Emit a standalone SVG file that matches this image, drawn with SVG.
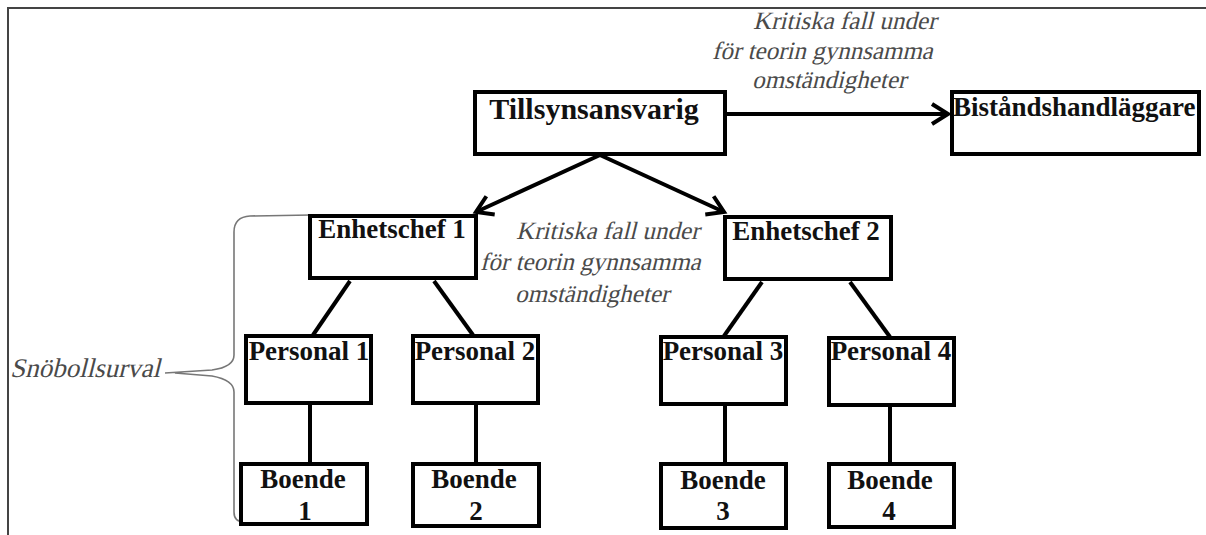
<svg xmlns="http://www.w3.org/2000/svg" width="1206" height="535" viewBox="0 0 1206 535">
<defs>
<style>
.box{fill:#fff;stroke:#000;stroke-width:4}
.t{font-family:"Liberation Serif","Times New Roman",serif;font-weight:bold;font-size:27px;fill:#111;text-anchor:middle}
.lab{font-family:"Liberation Serif","Times New Roman",serif;font-size:25px;fill:#4a4a4a}
.ln{stroke:#000;stroke-width:4;fill:none}
</style>
<marker id="arr" markerUnits="userSpaceOnUse" markerWidth="26" markerHeight="26" refX="19" refY="12" orient="auto">
<path d="M3,2 L19,12 L3,22" fill="none" stroke="#000" stroke-width="4"/>
</marker>
</defs>
<rect width="1206" height="535" fill="#fff"/>
<path d="M8,535 L8,8 L1206,8" fill="none" stroke="#444" stroke-width="2"/>

<g id="labels">
<text class="lab" transform="translate(753,29) skewX(-14)">Kritiska fall under</text>
<text class="lab" transform="translate(712,59) skewX(-14)">för teorin gynnsamma</text>
<text class="lab" transform="translate(752,88) skewX(-14)">omständigheter</text>
<text class="lab" transform="translate(516,239) skewX(-14)">Kritiska fall under</text>
<text class="lab" transform="translate(480,270) skewX(-14)">för teorin gynnsamma</text>
<text class="lab" transform="translate(515,302) skewX(-14)">omständigheter</text>
<text class="lab" transform="translate(10,377) skewX(-14)" style="font-size:27px">Snöbollsurval</text>
</g>

<g id="connectors">
<path class="ln" d="M725,114 L948,114" marker-end="url(#arr)"/>
<path class="ln" d="M600,155 L476,212" marker-end="url(#arr)"/>
<path class="ln" d="M600,155 L724,212" marker-end="url(#arr)"/>
<path class="ln" d="M350,281 L313,335"/>
<path class="ln" d="M434,281 L473,335"/>
<path class="ln" d="M762,282 L724,336"/>
<path class="ln" d="M850,282 L890,337"/>
<path class="ln" d="M310,403 L310,463"/>
<path class="ln" d="M476,403 L476,463"/>
<path class="ln" d="M725,404 L725,463"/>
<path class="ln" d="M890,405 L890,463"/>
<path d="M311,215 L250,216 Q234,217 234,232 L234,355 Q234,367 212,370 L165,373 M175,373 L212,376 Q234,380 234,392 L234,512 Q234,522 244,522" fill="none" stroke="#777" stroke-width="1.6"/>
</g>

<g id="n-tillsyn"><rect class="box" x="475" y="92" width="250" height="62"/><text class="t" x="594" y="119" style="font-size:30px">Tillsynsansvarig</text></g>
<g id="n-bistand"><rect class="box" x="952" y="92" width="247" height="62"/><text class="t" x="953" y="116" style="text-anchor:start">Biståndshandläggare</text></g>
<g id="n-enh1"><rect class="box" x="310" y="216" width="166" height="62"/><text class="t" x="392" y="238">Enhetschef 1</text></g>
<g id="n-enh2"><rect class="box" x="725" y="217" width="166" height="62"/><text class="t" x="806" y="240">Enhetschef 2</text></g>
<g id="n-p1"><rect class="box" x="246" y="336" width="125" height="67"/><text class="t" x="309" y="360">Personal 1</text></g>
<g id="n-p2"><rect class="box" x="413" y="336" width="125" height="67"/><text class="t" x="475" y="360">Personal 2</text></g>
<g id="n-p3"><rect class="box" x="661" y="337" width="125" height="67"/><text class="t" x="723" y="360">Personal 3</text></g>
<g id="n-p4"><rect class="box" x="829" y="338" width="125" height="67"/><text class="t" x="891" y="360">Personal 4</text></g>
<g id="n-b1"><rect class="box" x="241" y="464" width="126" height="60"/><text class="t" x="303" y="488">Boende</text><text class="t" x="305" y="520">1</text></g>
<g id="n-b2"><rect class="box" x="413" y="464" width="126" height="62"/><text class="t" x="474" y="488">Boende</text><text class="t" x="476" y="520">2</text></g>
<g id="n-b3"><rect class="box" x="661" y="464" width="125" height="64"/><text class="t" x="723" y="489">Boende</text><text class="t" x="723" y="520">3</text></g>
<g id="n-b4"><rect class="box" x="829" y="464" width="125" height="63"/><text class="t" x="890" y="489">Boende</text><text class="t" x="889" y="520">4</text></g>
</svg>
